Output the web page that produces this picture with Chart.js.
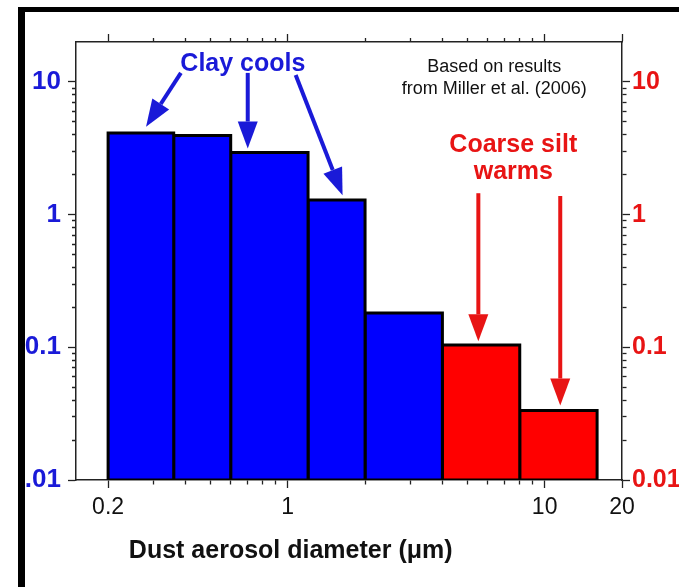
<!DOCTYPE html>
<html>
<head>
<meta charset="utf-8">
<script src="https://cdn.jsdelivr.net/npm/chart.js@4.4.1/dist/chart.umd.min.js"></script>
<style>
  html, body { margin: 0; padding: 0; background: #fff; }
  #wrap { width: 679px; height: 587px; position: relative; }
</style>
</head>
<body>
<div id="wrap"><canvas id="chart"></canvas></div>
<script>
// size bins (um) and the forcing value of each bin
const binEdges = [0.2, 0.36, 0.6, 1.2, 2, 4, 8, 16];
const binValues = [4.12, 3.95, 2.94, 1.29, 0.181, 0.104, 0.0334];
const binEffect = ['cool', 'cool', 'cool', 'cool', 'cool', 'warm', 'warm'];

const xLabelTicks = [0.2, 1, 10, 20];
const xMinorTicks = [0.3, 0.4, 0.5, 0.6, 0.7, 0.8, 0.9, 2, 3, 4, 5, 6, 7, 8, 9];
const yLabelTicks = [0.01, 0.1, 1, 10];
const yLeftLabels = ['0.01', '0.1', '1', '10'];
const yRightLabels = ['0.01', '0.1', '1', '10'];
const yMinorTicks = [0.02, 0.03, 0.04, 0.05, 0.06, 0.07, 0.08, 0.09,
    0.2, 0.3, 0.4, 0.5, 0.6, 0.7, 0.8, 0.9, 2, 3, 4, 5, 6, 7, 8, 9];

const X_MIN = 0.15, X_MAX = 20, Y_MIN = 0.01, Y_MAX = 20;

const BLUE = '#0000ff', RED = '#ff0000';
const BLUE_TXT = '#1a1ad8', RED_TXT = '#e81414';
const effectColor = { cool: BLUE, warm: RED };
const FONT = "'Liberation Sans', Arial, sans-serif";

// notes drawn on top, in data units
const arrows = [
    { from: [0.384, 11.7], to: [0.281, 4.6], color: BLUE_TXT },
    { from: [0.699, 11.7], to: [0.699, 3.15], color: BLUE_TXT },
    { from: [1.074, 11.3], to: [1.635, 1.40], color: BLUE_TXT },
    { from: [5.52, 1.45], to: [5.52, 0.111], color: RED_TXT },
    { from: [11.5, 1.38], to: [11.5, 0.0365], color: RED_TXT }
];
const notes = [
    { lines: ['Clay cools'], at: [0.669, 13.7], color: BLUE_TXT, font: 'bold 25px ' + FONT, gap: 0 },
    { lines: ['Based on results', 'from Miller et al. (2006)'], at: [6.37, 12.9], color: '#111', font: '18px ' + FONT, gap: 22 },
    { lines: ['Coarse silt', 'warms'], at: [7.55, 3.35], color: RED_TXT, font: 'bold 25px ' + FONT, gap: 27 }
];

// each bin is a closed outline filled as a shape
const datasets = binValues.map((v, i) => ({
    data: [
        { x: binEdges[i], y: Y_MIN },
        { x: binEdges[i], y: v },
        { x: binEdges[i + 1], y: v },
        { x: binEdges[i + 1], y: Y_MIN },
        { x: binEdges[i], y: Y_MIN }
    ],
    backgroundColor: effectColor[binEffect[i]],
    borderColor: '#000',
    borderWidth: 3,
    borderJoinStyle: 'miter',
    fill: 'shape',
    pointRadius: 0,
    tension: 0
}));

const MAJOR_LEN = 8, MINOR_LEN = 4;
const isLabelTick = (list, v) => list.some(t => Math.abs(t - v) / t < 1e-6);

// minor ticks: only the part next to the axis line is drawn
const minorDash = (list, outerFirst) => (c) => {
    if (!c.tick || isLabelTick(list, c.tick.value)) return [];
    return outerFirst ? [0, MAJOR_LEN - MINOR_LEN, MINOR_LEN, 100] : [MINOR_LEN, 100];
};

const setTicks = (majors, minors) => (scale) => {
    scale.ticks = [...majors, ...minors].sort((a, b) => a - b).map(v => ({ value: v, major: false }));
};

const gridFor = (list, outerFirst) => ({
    drawOnChartArea: false,
    drawTicks: true,
    tickLength: MAJOR_LEN,
    tickColor: '#222',
    tickWidth: 1.3,
    tickBorderDash: minorDash(list, outerFirst)
});
const borderOpt = { display: true, color: '#222', width: 1.5 };

const yLabel = (labels) => (v) => {
    const k = yLabelTicks.findIndex(t => Math.abs(t - v) / t < 1e-6);
    return k >= 0 ? labels[k] : '';
};

const notesPlugin = {
    id: 'notes',
    beforeDraw(chart) {
        const ctx = chart.ctx;
        ctx.save();
        ctx.fillStyle = '#fff';
        ctx.fillRect(0, 0, chart.width, chart.height);
        ctx.restore();
    },
    afterDraw(chart) {
        const { ctx } = chart;
        const xs = chart.scales.x, ys = chart.scales.y;
        const px = v => xs.getPixelForValue(v), py = v => ys.getPixelForValue(v);
        ctx.save();
        arrows.forEach(a => {
            const x0 = px(a.from[0]), y0 = py(a.from[1]);
            const x1 = px(a.to[0]), y1 = py(a.to[1]);
            const ang = Math.atan2(y1 - y0, x1 - x0);
            const head = 27, half = 10;
            const bx = x1 - head * Math.cos(ang), by = y1 - head * Math.sin(ang);
            ctx.strokeStyle = a.color;
            ctx.fillStyle = a.color;
            ctx.lineWidth = 4;
            ctx.beginPath();
            ctx.moveTo(x0, y0);
            ctx.lineTo(bx, by);
            ctx.stroke();
            ctx.beginPath();
            ctx.moveTo(x1, y1);
            ctx.lineTo(bx + half * Math.sin(ang), by - half * Math.cos(ang));
            ctx.lineTo(bx - half * Math.sin(ang), by + half * Math.cos(ang));
            ctx.closePath();
            ctx.fill();
        });
        ctx.textAlign = 'center';
        ctx.textBaseline = 'middle';
        notes.forEach(n => {
            ctx.font = n.font;
            ctx.fillStyle = n.color;
            n.lines.forEach((t, k) => ctx.fillText(t, px(n.at[0]), py(n.at[1]) + k * n.gap));
        });
        // x axis title, centred under x = 1
        ctx.font = 'bold 25px ' + FONT;
        ctx.fillStyle = '#111';
        ctx.fillText('Dust aerosol diameter (\u03bcm)', px(1) + 3, 551);
        // figure frame (cut by the picture edge on the right and bottom)
        ctx.fillStyle = '#fff';
        ctx.fillRect(0, 0, 18, chart.height);
        ctx.fillRect(0, 0, chart.width, 7);
        ctx.fillStyle = '#000';
        ctx.fillRect(18, 7, 7, chart.height);
        ctx.fillRect(18, 7, chart.width, 5);
        ctx.restore();
    }
};

Chart.defaults.font.family = FONT;

const config = {
    type: 'line',
    data: { datasets },
    options: {
        responsive: true,
        maintainAspectRatio: false,
        animation: false,
        layout: { padding: 0 },
        plugins: { legend: { display: false }, tooltip: { enabled: false }, title: { display: false } },
        scales: {
            x: {
                type: 'logarithmic', position: 'bottom', min: X_MIN, max: X_MAX,
                afterBuildTicks: setTicks(xLabelTicks, xMinorTicks),
                afterFit: s => { s.height = 107; },
                grid: gridFor(xLabelTicks, false),
                border: borderOpt,
                ticks: {
                    autoSkip: false, maxRotation: 0, padding: 6, color: '#111',
                    font: { size: 23 },
                    callback: v => isLabelTick(xLabelTicks, v) ? String(v) : ''
                }
            },
            x2: {
                type: 'logarithmic', position: 'top', min: X_MIN, max: X_MAX,
                afterBuildTicks: setTicks(xLabelTicks, xMinorTicks),
                afterFit: s => { s.height = 42; },
                grid: gridFor(xLabelTicks, true),
                border: borderOpt,
                ticks: { autoSkip: false, display: true, callback: () => '' }
            },
            y: {
                type: 'logarithmic', position: 'left', min: Y_MIN, max: Y_MAX,
                afterBuildTicks: setTicks(yLabelTicks, yMinorTicks),
                afterFit: s => { s.width = 76; },
                grid: gridFor(yLabelTicks, true),
                border: borderOpt,
                ticks: {
                    autoSkip: false, padding: 7, color: BLUE_TXT,
                    font: { size: 26, weight: 'bold' },
                    callback: yLabel(yLeftLabels)
                }
            },
            y2: {
                type: 'logarithmic', position: 'right', min: Y_MIN, max: Y_MAX,
                afterBuildTicks: setTicks(yLabelTicks, yMinorTicks),
                afterFit: s => { s.width = 57; },
                grid: gridFor(yLabelTicks, false),
                border: borderOpt,
                ticks: {
                    autoSkip: false, padding: 2, color: RED_TXT,
                    font: { size: 25, weight: 'bold' },
                    callback: yLabel(yRightLabels)
                }
            }
        }
    },
    plugins: [notesPlugin]
};

const ctx = document.getElementById('chart');
const myChart = new Chart(ctx, config);
</script>
</body>
</html>
